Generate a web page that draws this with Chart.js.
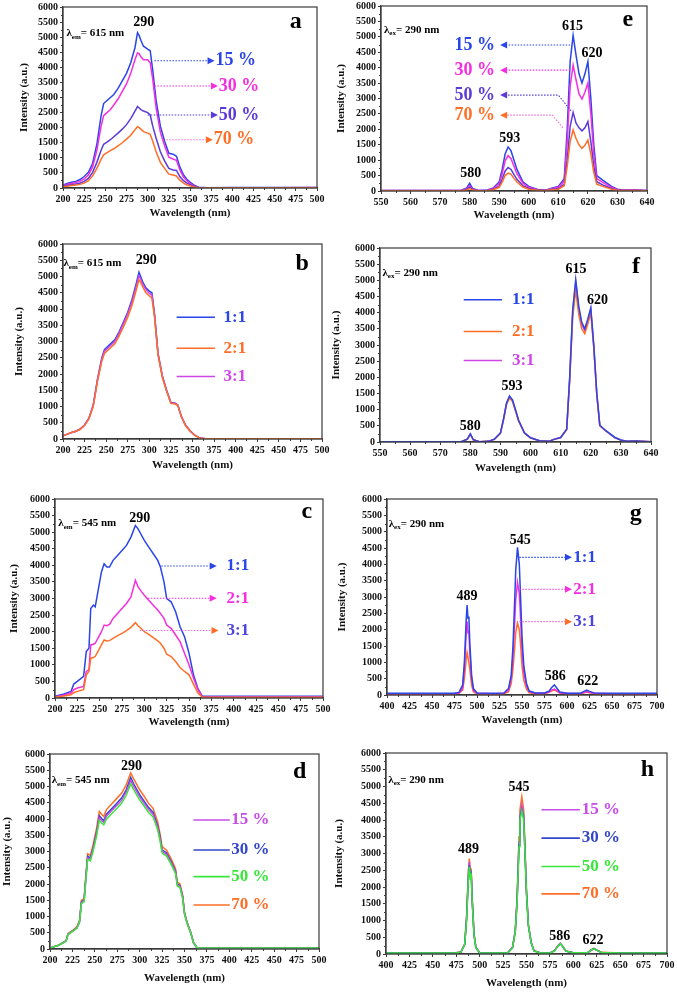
<!DOCTYPE html>
<html lang="en">
<head>
<meta charset="UTF-8">
<title>Excitation / emission spectra</title>
<script src="https://cdn.jsdelivr.net/npm/chart.js"></script>
<style>
  body { margin: 0; background: #fff; }
  #wrap { position: relative; width: 677px; height: 992px; overflow: hidden; }
  #wrap canvas { position: absolute; }
</style>
</head>
<body>
<div id="wrap"></div>
<script>
// ---- data ----
const aWl = [200,205,210,215,220,225,230,235,240,245,248,252,256,260,265,270,275,280,285,288,290,292,295,300,303,306,310,315,320,325,330,334,338,342,346,350,355,360,370,400,450,500];
const a15 = [100,150,190,220,280,380,520,820,1450,2400,2800,2900,3000,3100,3300,3550,3800,4150,4650,5150,5050,4900,4700,4600,4550,3900,2900,2050,1550,1150,1120,1050,700,450,300,200,90,25,10,15,15,20];
const a30 = [80,120,150,180,220,300,430,700,1250,2050,2400,2500,2600,2750,2950,3200,3450,3800,4250,4480,4450,4350,4250,4250,4150,3600,2650,1850,1400,1020,960,920,600,380,250,150,70,20,8,12,12,15];
const a50 = [60,90,110,130,160,220,320,520,850,1250,1450,1520,1600,1700,1820,1950,2100,2300,2550,2700,2650,2600,2550,2500,2420,2050,1650,1200,900,650,600,580,380,250,170,110,50,15,5,8,8,10];
const a70 = [40,60,80,100,120,160,240,400,650,950,1100,1170,1240,1300,1400,1500,1620,1750,1930,2030,2000,1950,1870,1820,1780,1550,1200,850,650,460,430,400,260,170,110,75,35,10,4,6,6,8];

const bWl = [200,205,210,215,220,225,230,235,240,245,248,252,256,260,265,270,275,280,285,288,290,292,296,300,303,306,310,315,320,325,330,333,337,342,347,352,358,365,400,450,500];
const b11 = [100,150,200,240,310,430,640,1050,1850,2500,2750,2850,2950,3050,3300,3600,3900,4300,4800,5130,5000,4850,4650,4550,4500,3850,2650,1950,1500,1120,1100,1050,700,420,260,130,35,10,8,8,8];
const b21 = [100,150,200,240,300,420,620,1000,1780,2400,2630,2730,2830,2930,3170,3450,3750,4120,4600,4900,4820,4700,4500,4400,4330,3750,2600,1900,1470,1100,1080,1030,690,410,250,125,33,10,8,8,8];
const b31 = [100,150,200,240,305,425,630,1030,1820,2460,2700,2800,2900,3000,3250,3550,3850,4230,4720,5020,4920,4780,4600,4480,4430,3820,2630,1930,1490,1110,1090,1040,695,415,255,128,34,10,8,8,8];

const cWl = [200,210,218,221,225,232,235,238,240,243,245,248,252,255,258,261,265,270,275,280,285,290,293,297,300,305,310,315,318,322,325,330,335,340,345,350,355,360,365,370,400,450,500];
const c11 = [50,120,200,420,500,650,1400,1500,2700,2800,2750,3200,3800,4050,3950,3950,4150,4300,4450,4600,4850,5200,5100,4900,4750,4550,4350,4150,3950,3500,3000,2900,2600,2150,1850,1350,700,280,50,50,50,50,55];
const c21 = [30,90,150,250,300,350,800,850,1600,1620,1650,1800,2000,2200,2180,2220,2400,2550,2700,2850,3050,3550,3350,3200,3100,2950,2800,2650,2550,2400,2200,2100,1900,1700,1350,1000,600,250,30,30,30,30,30];
const c31 = [20,60,100,160,200,250,700,800,1200,1220,1250,1400,1600,1750,1720,1730,1800,1880,1950,2030,2130,2270,2180,2080,2000,1920,1820,1720,1650,1500,1320,1250,1100,920,800,700,420,150,20,20,20,20,20];

const dWl = [200,210,215,218,220,225,230,233,235,238,240,242,245,248,252,255,258,260,263,270,275,280,285,290,293,297,300,305,310,315,320,323,325,330,335,340,342,345,348,350,353,357,360,364,370,400,450,500];
const d15 = [30,118,198,248,445,545,645,840,1430,1480,2170,2810,2760,3060,3550,4040,3940,3900,4090,4290,4430,4580,4830,5180,5020,4830,4680,4480,4290,4140,3750,3350,3010,2910,2660,2370,1970,1920,1580,1090,790,495,198,30,30,30,30,30];
const d30 = [30,120,200,250,450,550,650,850,1450,1500,2200,2850,2800,3100,3600,4100,4000,3950,4150,4350,4500,4650,4900,5280,5100,4900,4750,4550,4350,4200,3800,3400,3050,2950,2700,2400,2000,1950,1600,1100,800,500,200,30,30,30,30,30];
const d50 = [30,115,195,245,440,540,635,830,1400,1450,2130,2760,2710,3000,3480,3960,3870,3820,4000,4200,4340,4490,4730,5080,4920,4730,4590,4400,4200,4060,3680,3290,2950,2860,2610,2320,1940,1890,1550,1070,780,485,195,30,30,30,30,30];
const d70 = [30,125,210,260,470,570,680,880,1500,1550,2280,2930,2880,3200,3720,4230,4130,4080,4290,4500,4650,4800,5050,5420,5250,5050,4900,4700,4480,4330,3920,3500,3150,3040,2780,2470,2060,2000,1650,1130,820,510,210,30,30,30,30,30];

const eWl = [550,560,570,577,579,580,581,583,586,588,590,591,592,593,594,595,596,598,600,603,606,608,610,612,613,614,615,616,617,618,619,620,621,622,623,625,628,630,632,635,640];
const e15 = [20,20,20,20,100,250,80,20,30,100,300,700,1200,1430,1300,1000,700,300,150,50,30,100,150,400,2000,4200,5050,4400,3800,3500,3800,4200,3000,1500,500,350,150,60,30,40,20];
const e30 = [15,15,15,15,70,170,60,15,25,80,240,560,980,1150,1050,800,560,250,120,40,25,80,120,320,1600,3400,4080,3600,3150,2980,3200,3500,2500,1200,400,280,120,50,25,30,15];
const e50 = [12,12,12,12,50,120,40,12,18,55,160,380,650,760,700,530,380,170,80,30,18,55,80,220,1000,2100,2550,2200,2050,1950,2050,2250,1600,800,300,200,80,35,18,20,12];
const e70 = [10,10,10,10,35,80,30,10,15,40,120,290,500,580,540,410,290,130,60,25,15,40,60,170,800,1600,1980,1700,1500,1380,1480,1650,1200,600,220,150,60,25,15,15,10];

const fWl = eWl;
const f11 = [10,10,10,10,90,250,70,10,20,90,280,700,1200,1420,1300,1000,680,280,130,40,20,90,140,400,2000,4100,5020,4200,3700,3500,3800,4150,3000,1500,520,350,140,60,20,30,10];
const f21 = [10,10,10,10,85,240,65,10,20,85,270,670,1150,1360,1250,960,650,270,125,38,20,85,135,380,1900,3850,4700,3950,3500,3350,3650,4000,2900,1450,500,340,135,55,20,30,10];
const f31 = [10,10,10,10,88,245,68,10,20,88,275,690,1180,1400,1280,985,670,275,128,39,20,88,138,390,1960,4020,4950,4120,3630,3450,3720,4100,2960,1480,510,345,138,58,20,30,10];

const gWl = [400,450,475,480,484,486,488,489,490,491,492,494,496,500,520,530,535,538,540,542,543,545,547,548,550,552,555,558,565,575,580,583,586,589,592,600,615,619,622,625,630,650,700];
const g11 = [50,50,55,80,300,1000,2300,2750,2350,2400,1600,600,200,60,50,60,200,600,1500,3000,3800,4520,4000,3300,1800,900,350,120,60,60,120,230,310,200,90,55,55,110,150,110,60,50,50];
const g21 = [40,40,45,60,200,800,1900,2250,1900,1950,1300,500,150,50,40,50,150,500,1200,2300,2900,3450,3100,2600,1400,700,280,100,50,50,90,150,180,130,70,45,45,80,100,80,50,40,40];
const g31 = [30,30,35,50,150,500,1100,1300,1150,1150,800,300,100,40,30,40,100,350,800,1500,1900,2200,2000,1700,900,450,180,70,40,40,80,130,150,110,60,35,35,70,90,70,40,30,30];

const hWl = gWl;
const h15 = [30,30,35,58,290,1070,2420,2750,2380,2430,1650,580,190,40,30,40,190,680,1650,3350,4150,4450,4150,3400,1850,870,340,95,30,30,98,225,315,215,88,35,35,118,165,118,48,30,30];
const h30 = [30,30,35,55,280,1030,2330,2650,2300,2380,1600,560,185,40,30,40,185,660,1600,3250,4050,4300,4050,3300,1800,850,330,92,30,30,96,220,310,210,86,35,35,115,162,115,47,30,30];
const h50 = [30,30,35,55,275,1010,2300,2600,2280,2350,1580,550,180,40,30,40,182,650,1580,3200,4000,4280,4000,3280,1790,845,328,90,30,30,95,218,308,208,85,35,35,114,160,114,46,30,30];
const h70 = [30,30,35,60,300,1100,2500,2850,2450,2500,1700,600,200,40,30,40,200,700,1700,3500,4300,4700,4300,3500,1900,900,350,100,30,30,100,230,320,220,90,35,35,120,170,120,50,30,30];

// ---- colours / fonts ----
const BLUE = '#2a45e8', MAG = '#f52ee0', VIO = '#5b3ad8', ORANGE = '#ff6e26',
      PINK = '#f56ad8', PURP = '#cf45ea', VIO2 = '#4c44dc',
      D15 = '#c84de8', D30 = '#3346c8', GREEN = '#39e639';
const SERIF = '"Liberation Serif","DejaVu Serif",serif';
const AXIS = '#3a3a3a';
const font = s => 'bold ' + s + 'px ' + SERIF;

// note helpers (positions in data units)
const T = (x, y, text, size, color, align) => ({k: 'text', x, y, text, size, color: color || '#000', align: align || 'center'});
const Ar = (pts, color, head) => ({k: 'arrow', pts, color, head});
const L = (x1, x2, y, color) => ({k: 'line', x1, x2, y, color});
const Lam = (x, y, sub, rest) => ({k: 'lam', x, y, sub, rest});

const panels = [
  {l: 63, t: 7, r: 317, b: 188, yTitleX: 25, xTitleY: 213, xMin: 200, xMax: 500, xStep: 25, wl: aWl,
   series: [[a70, ORANGE], [a50, VIO], [a30, MAG], [a15, BLUE]],
   notes: [Lam(204, 5120, 'em', '= 615 nm'), T(295.5, 5480, '290', 14), T(475, 5500, 'a', 24),
     Ar([[308, 4218], [379, 4218]], BLUE, BLUE), T(380, 4218, '15 %', 18, BLUE, 'left'),
     Ar([[308, 3380], [383, 3380]], MAG, MAG), T(384, 3380, '30 %', 18, MAG, 'left'),
     Ar([[300, 2420], [383, 2420]], VIO, VIO), T(384, 2420, '50 %', 18, VIO, 'left'),
     Ar([[322, 1597], [377, 1597]], PINK, ORANGE), T(378, 1597, '70 %', 18, ORANGE, 'left')]},
  {l: 381, t: 6, r: 647, b: 191, yTitleX: 342, xTitleY: 215, xMin: 550, xMax: 640, xStep: 10, wl: eWl,
   series: [[e70, ORANGE], [e50, VIO], [e30, MAG], [e15, BLUE]],
   notes: [Lam(551, 5222, 'ex', '= 290 nm'), T(614.8, 5330, '615', 14), T(621.4, 4464, '620', 14),
     T(593.6, 1700, '593', 14), T(580.4, 563, '580', 14), T(633.5, 5547, 'e', 24),
     Ar([[614, 4735], [590.3, 4735]], BLUE, BLUE), T(588.6, 4735, '15 %', 18, BLUE, 'right'),
     Ar([[614, 3920], [590.3, 3920]], MAG, MAG), T(588.6, 3920, '30 %', 18, MAG, 'right'),
     Ar([[614.3, 2600], [610, 3110], [590.3, 3110]], VIO, VIO), T(588.6, 3110, '50 %', 18, VIO, 'right'),
     Ar([[611.5, 2050], [608, 2460], [590.3, 2460]], PINK, ORANGE), T(588.6, 2460, '70 %', 18, ORANGE, 'right')]},
  {l: 63, t: 244, r: 322, b: 439, yTitleX: 20, xTitleY: 465, xMin: 200, xMax: 500, xStep: 25, wl: bWl,
   series: [[b21, ORANGE], [b31, PURP], [b11, BLUE]],
   notes: [Lam(200.5, 5406, 'em', '= 615 nm'), T(296.5, 5488, '290', 14), T(477, 5406, 'b', 24),
     L(331.6, 376, 3746, BLUE), T(386, 3746, '1:1', 17, BLUE, 'left'),
     L(331.6, 376, 2794, ORANGE), T(386, 2794, '2:1', 17, ORANGE, 'left'),
     L(331.6, 376, 1924, PURP), T(386, 1924, '3:1', 17, PURP, 'left')]},
  {l: 380, t: 248, r: 651, b: 442, yTitleX: 337, xTitleY: 468, xMin: 550, xMax: 640, xStep: 10, wl: fWl,
   series: [[f11, BLUE], [f21, ORANGE], [f31, PURP]],
   notes: [Lam(550.8, 5226, 'ex', '= 290 nm'), T(615.1, 5329, '615', 14), T(622.2, 4379, '620', 14),
     T(593.8, 1714, '593', 14), T(580, 475, '580', 14), T(635, 5432, 'f', 24),
     L(577.8, 590.5, 4400, BLUE), T(593.8, 4400, '1:1', 17, BLUE, 'left'),
     L(577.8, 590.5, 3419, ORANGE), T(593.8, 3419, '2:1', 17, ORANGE, 'left'),
     L(577.8, 590.5, 2520, PURP), T(593.8, 2520, '3:1', 17, PURP, 'left')]},
  {l: 55, t: 499, r: 323, b: 698, yTitleX: 15, xTitleY: 722, xMin: 200, xMax: 500, xStep: 25, wl: cWl,
   series: [[c31, ORANGE], [c21, MAG], [c11, BLUE]],
   notes: [Lam(203.7, 5267, 'em', '= 545 nm'), T(295, 5418, '290', 14), T(482, 5618, 'c', 24),
     Ar([[319, 3982], [381, 3982]], BLUE, BLUE), T(392, 3982, '1:1', 17, BLUE, 'left'),
     Ar([[304, 3009], [381, 3009]], MAG, MAG), T(392, 3009, '2:1', 17, MAG, 'left'),
     Ar([[295, 2036], [383, 2036]], PINK, ORANGE), T(392, 2036, '3:1', 17, VIO2, 'left')]},
  {l: 387, t: 499, r: 657, b: 695, yTitleX: 343, xTitleY: 720, xMin: 400, xMax: 700, xStep: 25, wl: gWl,
   series: [[g11, BLUE], [g21, MAG], [g31, ORANGE]],
   notes: [Lam(401.9, 5235, 'ex', '= 290 nm'), T(489, 3010, '489', 14), T(548, 4745, '545', 14),
     T(587, 561, '586', 14), T(623, 429, '622', 14), T(676.5, 5560, 'g', 24),
     Ar([[547, 4214], [605.5, 4214]], BLUE, BLUE), T(607, 4214, '1:1', 17, BLUE, 'left'),
     Ar([[547, 3235], [605.5, 3235]], MAG, MAG), T(607, 3235, '2:1', 17, MAG, 'left'),
     Ar([[547, 2245], [605.5, 2245]], PINK, ORANGE), T(607, 2245, '3:1', 17, VIO2, 'left')]},
  {l: 50, t: 754, r: 319, b: 949, yTitleX: 8, xTitleY: 978, xMin: 200, xMax: 500, xStep: 25, wl: dWl,
   series: [[d50, GREEN], [d15, D15], [d30, D30], [d70, ORANGE]],
   notes: [Lam(201.9, 5180, 'em', '= 545 nm'), T(291, 5631, '290', 14), T(478.5, 5456, 'd', 24),
     L(360, 400.5, 3969, D15), T(402, 3969, '15 %', 17, D15, 'left'),
     L(360, 400.5, 3046, D30), T(402, 3046, '30 %', 17, D30, 'left'),
     L(360, 400.5, 2226, GREEN), T(402, 2226, '50 %', 17, GREEN, 'left'),
     L(360, 400.5, 1354, ORANGE), T(402, 1354, '70 %', 17, ORANGE, 'left')]},
  {l: 386, t: 753, r: 667, b: 954, yTitleX: 340, xTitleY: 983, xMin: 400, xMax: 700, xStep: 25, wl: hWl,
   series: [[h50, GREEN], [h30, D30], [h15, D15], [h70, ORANGE]],
   notes: [Lam(402.5, 5203, 'ex', '= 290 nm'), T(488, 3130, '489', 14), T(542, 4984, '545', 14),
     T(585.4, 538, '586', 14), T(621, 399, '622', 14), T(679, 5502, 'h', 24),
     L(566, 607, 4307, D15), T(609, 4307, '15 %', 17, D15, 'left'),
     L(566, 607, 3460, D30), T(609, 3460, '30 %', 17, D30, 'left'),
     L(566, 607, 2612, GREEN), T(609, 2612, '50 %', 17, GREEN, 'left'),
     L(566, 607, 1795, ORANGE), T(609, 1795, '70 %', 17, ORANGE, 'left')]}
];

// frame (top/right) + minor ticks
const framePlugin = {
  id: 'frame',
  afterDraw(chart) {
    const {ctx, chartArea: ca, scales} = chart;
    ctx.save();
    ctx.strokeStyle = AXIS;
    ctx.lineWidth = 1.2;
    ctx.strokeRect(ca.left, ca.top, ca.right - ca.left, ca.bottom - ca.top);
    ctx.lineWidth = 1;
    ctx.beginPath();
    for (let v = 250; v < 6000; v += 500) {
      const y = Math.round(scales.y.getPixelForValue(v)) + 0.5;
      ctx.moveTo(ca.left, y); ctx.lineTo(ca.left - 2, y);
    }
    const st = scales.x.options.ticks.stepSize;
    for (let v = scales.x.min + st / 2; v < scales.x.max; v += st) {
      const x = Math.round(scales.x.getPixelForValue(v)) + 0.5;
      ctx.moveTo(x, ca.bottom); ctx.lineTo(x, ca.bottom + 2);
    }
    ctx.stroke();
    ctx.restore();
  }
};

function notesPlugin(notes) {
  return {
    id: 'notes',
    afterDatasetsDraw(chart) {
      const ctx = chart.ctx;
      const X = v => chart.scales.x.getPixelForValue(v);
      const Y = v => chart.scales.y.getPixelForValue(v);
      ctx.save();
      ctx.textBaseline = 'middle';
      notes.forEach(n => {
        if (n.k === 'text') {
          ctx.font = font(n.size);
          ctx.fillStyle = n.color;
          ctx.textAlign = n.align;
          ctx.fillText(n.text, X(n.x), Y(n.y));
        } else if (n.k === 'lam') {
          let x = X(n.x);
          const y = Y(n.y);
          ctx.fillStyle = '#000';
          ctx.textAlign = 'left';
          ctx.font = font(11);
          ctx.fillText('λ', x, y);
          x += ctx.measureText('λ').width;
          ctx.font = font(7);
          ctx.fillText(n.sub, x, y + 3.5);
          x += ctx.measureText(n.sub).width;
          ctx.font = font(11);
          ctx.fillText(n.rest, x, y);
        } else if (n.k === 'line') {
          ctx.strokeStyle = n.color;
          ctx.lineWidth = 1.6;
          ctx.setLineDash([]);
          ctx.beginPath();
          ctx.moveTo(X(n.x1), Y(n.y));
          ctx.lineTo(X(n.x2), Y(n.y));
          ctx.stroke();
        } else if (n.k === 'arrow') {
          const pts = n.pts.map(p => [X(p[0]), Y(p[1])]);
          const tip = pts[pts.length - 1];
          const prev = pts[pts.length - 2];
          const dir = Math.sign(tip[0] - prev[0]) || 1;
          const hl = 7, hw = 3.5;
          ctx.strokeStyle = n.color;
          ctx.lineWidth = 1.1;
          ctx.setLineDash([1.5, 1.5]);
          ctx.beginPath();
          ctx.moveTo(pts[0][0], pts[0][1]);
          for (let i = 1; i < pts.length - 1; i++) ctx.lineTo(pts[i][0], pts[i][1]);
          ctx.lineTo(tip[0] - dir * hl, tip[1]);
          ctx.stroke();
          ctx.setLineDash([]);
          ctx.fillStyle = n.head;
          ctx.beginPath();
          ctx.moveTo(tip[0], tip[1]);
          ctx.lineTo(tip[0] - dir * hl, tip[1] - hw);
          ctx.lineTo(tip[0] - dir * hl, tip[1] + hw);
          ctx.closePath();
          ctx.fill();
        }
      });
      ctx.restore();
    }
  };
}

const wrap = document.getElementById('wrap');
panels.forEach(p => {
  const titleHalf = 6.6;       // half line height of 11px axis titles
  const padTop = 10, padRight = 14;
  const left = Math.round(p.yTitleX - titleHalf);
  const yW = p.l - left;
  const xH = Math.round(p.xTitleY - p.b + titleHalf);
  const w = yW + (p.r - p.l) + padRight;
  const h = padTop + (p.b - p.t) + xH;
  const el = document.createElement('canvas');
  el.width = w; el.height = h;
  el.style.left = left + 'px';
  el.style.top = (p.t - padTop) + 'px';
  wrap.appendChild(el);

  new Chart(el, {
    type: 'line',
    data: {
      datasets: p.series.map(([vals, col]) => ({
        data: p.wl.map((x, i) => ({x: x, y: vals[i]})),
        borderColor: col,
        borderWidth: 1.5,
        pointRadius: 0,
        tension: 0,
        fill: false
      }))
    },
    options: {
      responsive: false,
      animation: false,
      devicePixelRatio: 1,
      layout: {padding: {top: padTop, right: padRight, left: 0, bottom: 0}},
      plugins: {legend: {display: false}, tooltip: {enabled: false}},
      scales: {
        x: {
          type: 'linear', min: p.xMin, max: p.xMax,
          afterFit: s => { s.height = xH; },
          ticks: {stepSize: p.xStep, autoSkip: false, maxRotation: 0, padding: 2,
                  color: '#111', font: {family: SERIF, size: 10, weight: 'bold'}},
          grid: {drawOnChartArea: false, tickLength: 3, color: AXIS},
          border: {color: AXIS, width: 1.2},
          title: {display: true, text: 'Wavelength (nm)', color: '#111', padding: 0,
                  font: {family: SERIF, size: 11, weight: 'bold'}}
        },
        y: {
          min: 0, max: 6000,
          afterFit: s => { s.width = yW; },
          ticks: {stepSize: 500, padding: 2, color: '#111', callback: v => String(v),
                  font: {family: SERIF, size: 10, weight: 'bold'}},
          grid: {drawOnChartArea: false, tickLength: 3, color: AXIS},
          border: {color: AXIS, width: 1.2},
          title: {display: true, text: 'Intensity (a.u.)', color: '#111', padding: 0,
                  font: {family: SERIF, size: 11, weight: 'bold'}}
        }
      }
    },
    plugins: [framePlugin, notesPlugin(p.notes)]
  });
});
</script>
</body>
</html>
